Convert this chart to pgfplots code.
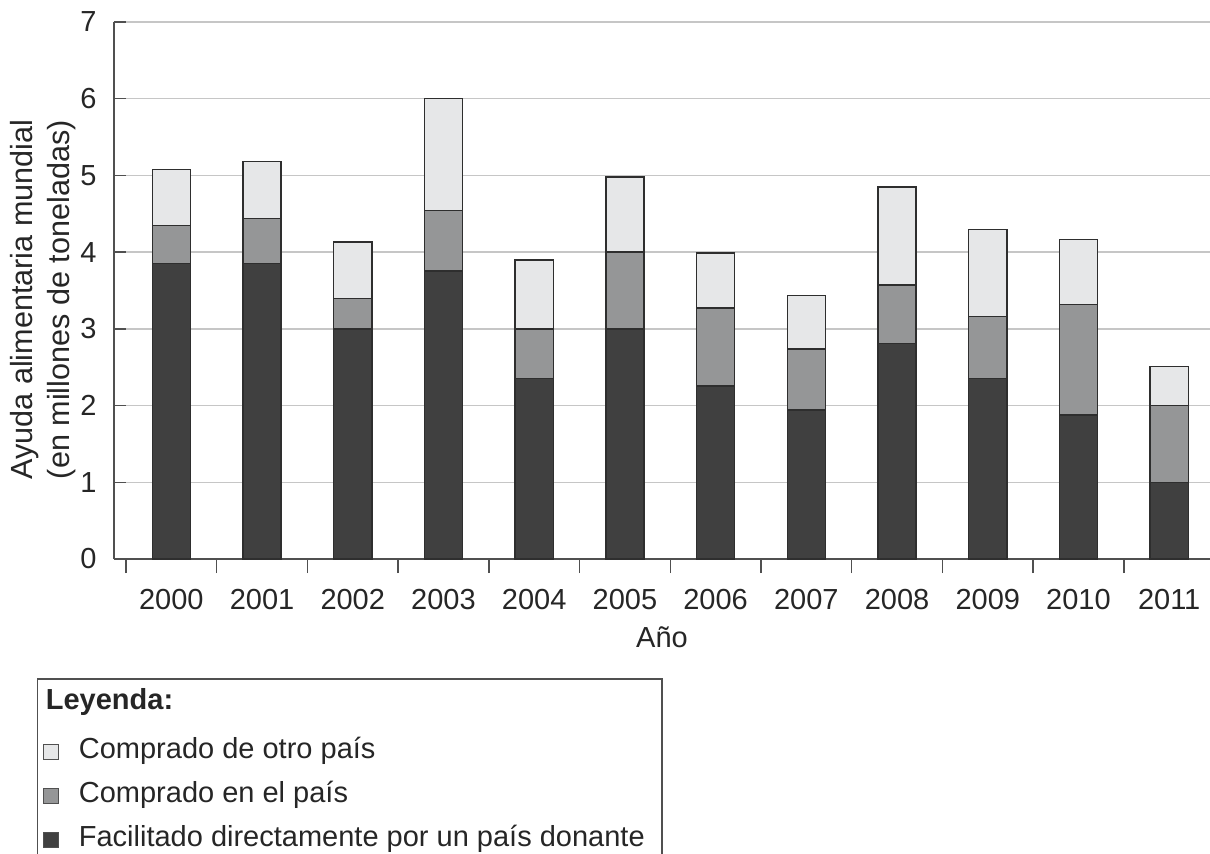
\documentclass[border=0pt]{standalone}
\usepackage{fontspec}
\setmainfont{Liberation Sans}
\usepackage{pgfplots}
\usepackage{pgfplotstable}
\pgfplotsset{compat=1.18}
\definecolor{cdark}{HTML}{404040}
\definecolor{cmed}{HTML}{959697}
\definecolor{clight}{HTML}{E6E7E8}
\definecolor{cedge}{HTML}{2E2E2E}
\definecolor{cgrid}{HTML}{C6C6C6}
\definecolor{caxis}{HTML}{505050}

\pgfplotstableread{
x dark med light
0 3.855 0.490 0.735
1 3.855 0.585 0.740
2 3.000 0.395 0.740
3 3.756 0.784 1.460
4 2.350 0.650 0.900
5 3.000 1.000 0.980
6 2.256 1.014 0.720
7 1.940 0.800 0.695
8 2.810 0.764 1.276
9 2.350 0.810 1.135
10 1.878 1.442 0.845
11 1.000 1.000 0.510
}\datatable

\newcommand{\chartfont}{\fontsize{14.5}{18}\selectfont}
\newcommand{\labelfont}{\fontsize{15.3}{18.5}\selectfont}

\begin{document}
\begin{tikzpicture}
\begin{axis}[
  at={(0,0)}, anchor=south west,
  scale only axis, width=548pt, height=268.5pt,
  ybar stacked, bar width=0.42,
  xmin=-0.632, xmax=11.45, ymin=0, ymax=7,
  axis x line*=bottom, axis y line*=left,
  axis line style={-, draw=caxis, line width=0.75pt},
  ytick={0,1,2,3,4,5,6,7},
  xtick={0,1,2,3,4,5,6,7,8,9,10,11},
  xticklabels={2000,2001,2002,2003,2004,2005,2006,2007,2008,2009,2010,2011},
  minor xtick={-0.5,0.5,1.5,2.5,3.5,4.5,5.5,6.5,7.5,8.5,9.5,10.5},
  tick align=inside,
  major tick length=6pt, minor tick length=7pt,
  every tick/.append style={draw=caxis, line width=0.75pt},
  every major x tick/.append style={draw=none},
  every minor x tick/.append style={yshift=-7pt},
  ymajorgrids,
  grid style={draw=cgrid, line width=0.75pt},
  /pgf/number format/assume math mode=true,
  tick label style={font=\chartfont, text=black!85},
  yticklabel style={xshift=-5.2pt},
  xticklabel style={yshift=-11.7pt},
  ylabel={Ayuda alimentaria mundial\\(en millones de toneladas)},
  ylabel style={at={(axis description cs:-0.0648,0.483)}, anchor=center, align=center, font=\labelfont, text=black!85},
  xlabel={Año},
  xlabel style={at={(axis description cs:0.5,-0.1639)}, anchor=base, font=\chartfont, text=black!85},
  legend style={at={(axis description cs:-0.0703,-0.2216)}, anchor=north west,
    draw=caxis, line width=0.75pt, inner xsep=2.5pt, inner ysep=4.5pt,
    row sep=7.5pt, column sep=10pt,
    nodes={inner sep=0pt, text height=11pt, text depth=3.5pt, font=\chartfont, text=black!85}},
  legend cell align=left,
  mysq/.style={legend image code/.code={\draw[##1, draw=caxis, line width=0.6pt] (0pt,-4pt) rectangle (7.5pt,3.5pt);}},
]
\addlegendimage{empty legend}
\addlegendentry[text depth=6pt]{\hspace{-16.5pt}\textbf{Leyenda:}}
\addlegendimage{mysq, fill=clight}
\addlegendentry{Comprado de otro país}
\addlegendimage{mysq, fill=cmed}
\addlegendentry{Comprado en el país}
\addlegendimage{mysq, fill=cdark}
\addlegendentry{Facilitado directamente por un país donante\hspace*{6pt}}

\addplot[fill=cdark, draw=cedge, line width=0.7pt] table[x=x, y=dark] {\datatable};
\addplot[fill=cmed, draw=cedge, line width=0.7pt] table[x=x, y=med] {\datatable};
\addplot[fill=clight, draw=cedge, line width=0.7pt] table[x=x, y=light] {\datatable};
\end{axis}
\pgfresetboundingbox
\path[use as bounding box] (-57pt,-147pt) rectangle (548pt,279.5pt);
\end{tikzpicture}
\end{document}
